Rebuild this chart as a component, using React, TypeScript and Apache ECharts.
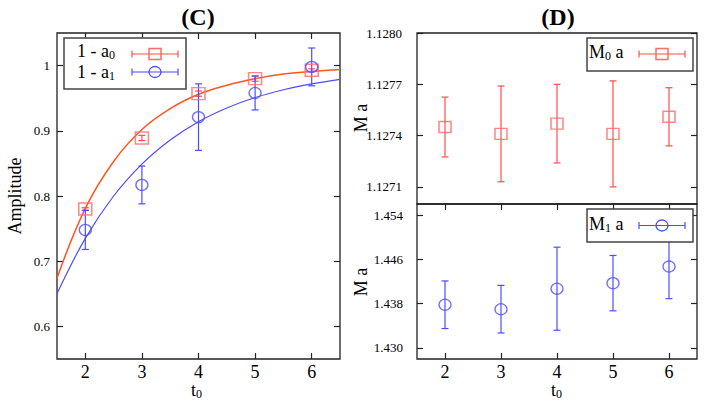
import React, { useEffect, useRef } from 'react';
import * as echarts from 'echarts';

// ---- data ----
const t0Values = [2, 3, 4, 5, 6];
const amp0 = [0.78, 0.889, 0.957, 0.98, 0.993];
const amp0Err = [0.002, 0.004, 0.004, 0.004, 0.002];
const amp1 = [0.748, 0.817, 0.921, 0.958, 0.998];
const amp1Err = [0.03, 0.029, 0.051, 0.026, 0.029];
const fitT = [1.5, 2, 2.5, 3, 3.5, 4, 4.5, 5, 5.5, 6, 6.5];
const fit0 = [0.674, 0.781, 0.853, 0.902, 0.934, 0.956, 0.97, 0.98, 0.987, 0.991, 0.994];
const fit1 = [0.65, 0.735, 0.8, 0.849, 0.886, 0.914, 0.935, 0.951, 0.963, 0.972, 0.979];
const m0 = [1.12745, 1.12741, 1.12747, 1.12741, 1.12751];
const m0Err = [0.000175, 0.00028, 0.00023, 0.00031, 0.00017];
const m1 = [1.4378, 1.437, 1.4407, 1.4417, 1.4447];
const m1Err = [0.0043, 0.0043, 0.0075, 0.005, 0.0058];
const xTicks = [2, 3, 4, 5, 6];
const ampTicks = [0.6, 0.7, 0.8, 0.9, 1];
const m0Ticks = [1.1271, 1.1274, 1.1277, 1.128];
const m1Ticks = [1.43, 1.438, 1.446, 1.454];

const FONT = '"Liberation Serif", "Times New Roman", serif';
const RED = '#ff4d4d';
const RED_MK = '#ff6a6a';
const FIT_RED = '#ff5522';
const BLUE = '#4d4dff';
const FRAME = '#222';

let measureCtx: CanvasRenderingContext2D | null = null;
const measure = (text: string, size: number) => {
  if (!measureCtx) measureCtx = document.createElement('canvas').getContext('2d');
  if (!measureCtx) return text.length * size * 0.5;
  measureCtx.font = `${size}px ${FONT}`;
  return measureCtx.measureText(text).width;
};

const errRender = (color: string) => (params: any, api: any) => {
  const x = api.value(0);
  const p1 = api.coord([x, api.value(1)]);
  const p2 = api.coord([x, api.value(2)]);
  const w = 3.5;
  const style = { stroke: color, lineWidth: 1.2 };
  return {
    type: 'group',
    children: [
      { type: 'line', shape: { x1: p1[0], y1: p1[1], x2: p2[0], y2: p2[1] }, style },
      { type: 'line', shape: { x1: p1[0] - w, y1: p1[1], x2: p1[0] + w, y2: p1[1] }, style },
      { type: 'line', shape: { x1: p2[0] - w, y1: p2[1], x2: p2[0] + w, y2: p2[1] }, style },
    ],
  };
};

const errData = (vals: number[], errs: number[]) =>
  t0Values.map((t, i) => [t, vals[i] - errs[i], vals[i] + errs[i]]);

const xAxisDef = (gridIndex: number, position: 'top' | 'bottom', showLabel: boolean, showTick: boolean) => ({
  type: 'value',
  gridIndex,
  position,
  min: 1.5,
  max: 6.5,
  axisLine: { show: false },
  splitLine: { show: false },
  axisTick: {
    show: showTick,
    inside: true,
    length: 6,
    customValues: xTicks,
    lineStyle: { color: FRAME, width: 1.2 },
  },
  axisLabel: {
    show: showLabel,
    customValues: xTicks,
    fontFamily: FONT,
    fontSize: 18,
    lineHeight: 14,
    color: '#000',
    margin: 6,
  },
});

const yAxisDef = (
  gridIndex: number,
  position: 'left' | 'right',
  min: number,
  max: number,
  ticks: number[],
  digits: number,
  showLabel: boolean,
  margin: number
) => ({
  type: 'value',
  gridIndex,
  position,
  min,
  max,
  axisLine: { show: false },
  splitLine: { show: false },
  axisTick: {
    show: true,
    inside: true,
    length: 6,
    customValues: ticks,
    lineStyle: { color: FRAME, width: 1.2 },
  },
  axisLabel: {
    show: showLabel,
    customValues: ticks,
    fontFamily: FONT,
    fontSize: 13,
    color: '#000',
    margin,
    formatter: (v: number) => (digits < 0 ? String(Number(v.toFixed(1))) : v.toFixed(digits)),
  },
});

// text with a subscript, built from separate text elements
const subText = (x: number, y: number, main: string, sub: string, rest: string, z = 11) => {
  const size = 18;
  const subSize = 12;
  const w1 = measure(main, size);
  const w2 = measure(sub, subSize);
  const base = { fontFamily: FONT, fill: '#000', verticalAlign: 'middle', align: 'left' };
  const items: any[] = [
    { type: 'text', x, y, z, style: { ...base, text: main, fontSize: size, lineHeight: 15 } },
    { type: 'text', x: x + w1, y: y + 4, z, style: { ...base, text: sub, fontSize: subSize, lineHeight: 10 } },
  ];
  if (rest) {
    items.push({ type: 'text', x: x + w1 + w2, y, z, style: { ...base, text: rest, fontSize: size, lineHeight: 15 } });
  }
  return items;
};

const sample = (x1: number, x2: number, y: number, color: string, marker: 'rect' | 'circle') => {
  const st = { stroke: color, lineWidth: 1.2 };
  const cx = (x1 + x2) / 2;
  const items: any[] = [
    { type: 'line', shape: { x1, y1: y, x2, y2: y }, style: st },
    { type: 'line', shape: { x1, y1: y - 3.5, x2: x1, y2: y + 3.5 }, style: st },
    { type: 'line', shape: { x1: x2, y1: y - 3.5, x2, y2: y + 3.5 }, style: st },
  ];
  if (marker === 'rect') {
    items.push({ type: 'rect', shape: { x: cx - 6, y: y - 5.5, width: 12, height: 11 }, style: { fill: 'none', stroke: RED_MK, lineWidth: 1.5 } });
  } else {
    items.push({ type: 'ellipse', shape: { cx, cy: y, rx: 6, ry: 5.5 }, style: { fill: 'none', stroke: color, lineWidth: 1.3 } });
  }
  return items.map((e) => ({ ...e, z: 11 }));
};

export default function App() {
  const ref = useRef<HTMLDivElement>(null);
  useEffect(() => {
    if (!ref.current) return;
    const chart = echarts.init(ref.current, undefined, { renderer: 'svg' });
    const gridBase = { show: true, borderColor: FRAME, borderWidth: 1.3, backgroundColor: 'transparent', containLabel: false };
    const titleStyle = { fontFamily: FONT, fontSize: 24, fontWeight: 'bold', fill: '#000', align: 'center', verticalAlign: 'middle' };
    const nameStyle = { fontFamily: FONT, fontSize: 18, fill: '#000', align: 'center', verticalAlign: 'middle' };
    chart.setOption({
      animation: false,
      backgroundColor: '#fff',
      grid: [
        { ...gridBase, left: 57, top: 33, width: 283, height: 326 },
        { ...gridBase, left: 417, top: 33, width: 280, height: 171 },
        { ...gridBase, left: 417, top: 204, width: 280, height: 155 },
      ],
      xAxis: [
        xAxisDef(0, 'bottom', true, true),
        xAxisDef(0, 'top', false, true),
        xAxisDef(1, 'bottom', false, false),
        xAxisDef(2, 'bottom', true, true),
        xAxisDef(2, 'top', false, true),
      ],
      yAxis: [
        yAxisDef(0, 'left', 0.55, 1.05, ampTicks, -1, true, 7),
        yAxisDef(0, 'right', 0.55, 1.05, ampTicks, -1, false, 7),
        yAxisDef(1, 'left', 1.127, 1.128, m0Ticks, 4, true, 15),
        yAxisDef(1, 'right', 1.127, 1.128, m0Ticks, 4, false, 15),
        yAxisDef(2, 'left', 1.428, 1.456, m1Ticks, 3, true, 14),
        yAxisDef(2, 'right', 1.428, 1.456, m1Ticks, 3, false, 14),
      ],
      series: [
        {
          type: 'line', xAxisIndex: 0, yAxisIndex: 0, smooth: 0.4, showSymbol: false, symbol: 'none',
          data: fitT.map((t, i) => [t, fit0[i]]), lineStyle: { color: FIT_RED, width: 1.5 }, z: 2,
        },
        {
          type: 'line', xAxisIndex: 0, yAxisIndex: 0, smooth: 0.4, showSymbol: false, symbol: 'none',
          data: fitT.map((t, i) => [t, fit1[i]]), lineStyle: { color: BLUE, width: 1.2 }, z: 2,
        },
        { type: 'custom', xAxisIndex: 0, yAxisIndex: 0, renderItem: errRender(RED), data: errData(amp0, amp0Err), z: 3 },
        { type: 'custom', xAxisIndex: 0, yAxisIndex: 0, renderItem: errRender(BLUE), data: errData(amp1, amp1Err), z: 3 },
        {
          type: 'scatter', xAxisIndex: 0, yAxisIndex: 0, symbol: 'rect', symbolSize: [13, 12],
          data: t0Values.map((t, i) => [t, amp0[i]]),
          itemStyle: { color: 'rgba(0,0,0,0)', borderColor: RED_MK, borderWidth: 1.5 }, z: 4,
        },
        {
          type: 'scatter', xAxisIndex: 0, yAxisIndex: 0, symbol: 'circle', symbolSize: [12, 11],
          data: t0Values.map((t, i) => [t, amp1[i]]),
          itemStyle: { color: 'rgba(0,0,0,0)', borderColor: BLUE, borderWidth: 1.3 }, z: 4,
        },
        { type: 'custom', xAxisIndex: 2, yAxisIndex: 2, renderItem: errRender(RED), data: errData(m0, m0Err), z: 3 },
        {
          type: 'scatter', xAxisIndex: 2, yAxisIndex: 2, symbol: 'rect', symbolSize: [12, 11],
          data: t0Values.map((t, i) => [t, m0[i]]),
          itemStyle: { color: 'rgba(0,0,0,0)', borderColor: RED_MK, borderWidth: 1.5 }, z: 4,
        },
        { type: 'custom', xAxisIndex: 3, yAxisIndex: 4, renderItem: errRender(BLUE), data: errData(m1, m1Err), z: 3 },
        {
          type: 'scatter', xAxisIndex: 3, yAxisIndex: 4, symbol: 'circle', symbolSize: [12, 11],
          data: t0Values.map((t, i) => [t, m1[i]]),
          itemStyle: { color: 'rgba(0,0,0,0)', borderColor: BLUE, borderWidth: 1.3 }, z: 4,
        },
      ],
      graphic: [
        { type: 'text', x: 198, y: 17, style: { ...titleStyle, text: '(C)' } },
        { type: 'text', x: 558, y: 17, style: { ...titleStyle, text: '(D)' } },
        { type: 'text', x: 15, y: 196, rotation: Math.PI / 2, style: { ...nameStyle, text: 'Amplitude' } },
        { type: 'text', x: 361, y: 118, rotation: Math.PI / 2, style: { ...nameStyle, text: 'M a' } },
        { type: 'text', x: 361, y: 282, rotation: Math.PI / 2, style: { ...nameStyle, text: 'M a' } },
        ...subText(191, 390, 't', '0', ''),
        ...subText(551, 390, 't', '0', ''),
        // legend C
        { type: 'rect', shape: { x: 64, y: 38, width: 122, height: 51 }, style: { fill: '#fff', stroke: '#444', lineWidth: 1.5 }, z: 10 },
        ...subText(77, 51, '1 - a', '0', ''),
        ...subText(77, 71.5, '1 - a', '1', ''),
        ...sample(132, 178, 54, RED, 'rect'),
        ...sample(132, 178, 72, BLUE, 'circle'),
        // legend D top
        { type: 'rect', shape: { x: 587, y: 38, width: 106, height: 33 }, style: { fill: '#fff', stroke: '#444', lineWidth: 1.5 }, z: 10 },
        ...subText(589, 52, 'M', '0', ' a'),
        ...sample(639, 685, 54, RED, 'rect'),
        // legend D bottom
        { type: 'rect', shape: { x: 587, y: 209, width: 106, height: 33 }, style: { fill: '#fff', stroke: '#444', lineWidth: 1.5 }, z: 10 },
        ...subText(589, 223.5, 'M', '1', ' a'),
        ...sample(639, 685, 225.5, BLUE, 'circle'),
      ],
    });
    return () => chart.dispose();
  }, []);
  return <div ref={ref} style={{ width: 708, height: 409, position: 'absolute', left: 0, top: 0 }} />;
}
